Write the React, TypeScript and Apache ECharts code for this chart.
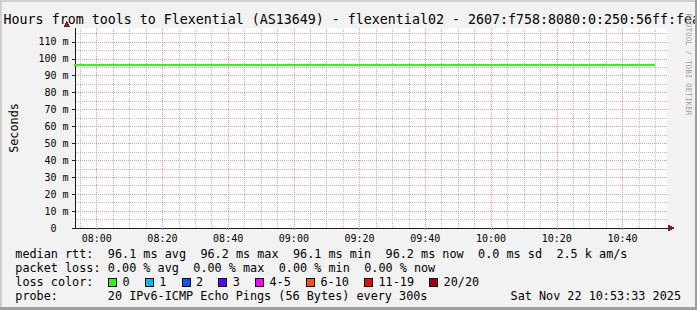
import { useEffect, useRef } from 'react';
import * as echarts from 'echarts';

const FONT = '"DejaVu Sans Mono", monospace';

const TITLE = 'Hours from tools to Flexential (AS13649) - flexential02 - 2607:f758:8080:0:250:56ff:fea';
const Y_NAME = 'Seconds';
const WATERMARK = 'RRDTOOL / TOBI OETIKER';

const WINDOW_START = '07:53:33';
const WINDOW_END = '10:53:33';
const Y_MAX = 118.2;

const sampleTimes = [
  '07:50', '07:55', '08:00', '08:05', '08:10', '08:15', '08:20', '08:25', '08:30', '08:35',
  '08:40', '08:45', '08:50', '08:55', '09:00', '09:05', '09:10', '09:15', '09:20', '09:25',
  '09:30', '09:35', '09:40', '09:45', '09:50', '09:55', '10:00', '10:05', '10:10', '10:15',
  '10:20', '10:25', '10:30', '10:35', '10:40', '10:45', '10:50',
];
const medianRttMs = [
  96.1, 96.1, 96.2, 96.1, 96.1, 96.1, 96.2, 96.1, 96.1, 96.1,
  96.1, 96.2, 96.1, 96.1, 96.1, 96.1, 96.1, 96.2, 96.1, 96.1,
  96.1, 96.2, 96.1, 96.1, 96.1, 96.1, 96.1, 96.2, 96.1, 96.1,
  96.1, 96.1, 96.2, 96.1, 96.1, 96.1, 96.2,
];

const xTickLabels = ['08:00', '08:20', '08:40', '09:00', '09:20', '09:40', '10:00', '10:20', '10:40'];
const yMajorTicks = [0, 10, 20, 30, 40, 50, 60, 70, 80, 90, 100, 110];
const yMinorTicks = [5, 15, 25, 35, 45, 55, 65, 75, 85, 95, 105, 115];

const rttStats = ['96.1 ms avg', '96.2 ms max', '96.1 ms min', '96.2 ms now', '0.0 ms sd', '2.5 k am/s'];
const lossStats = ['0.00 % avg', '0.00 % max', '0.00 % min', '0.00 % now'];
const lossLabels = ['0', '1', '2', '3', '4-5', '6-10', '11-19', '20/20'];
const lossColors = ['#26ff00', '#00b8ff', '#0059ff', '#5e00ff', '#ff00ff', '#ff5500', '#ff0000', '#a10000'];
const probeText = '20 IPv6-ICMP Echo Pings (56 Bytes) every 300s';
const dateText = 'Sat Nov 22 10:53:33 2025';

const BG = '#f2f2f2';
const SHADE_A = '#cfcfcf';
const SHADE_B = '#9e9e9e';
const AXIS = '#1f1f1f';
const ARROW = '#801f1f';
const MINOR_GRID = '#bcbcbc';
const MAJOR_GRID = '#eb9a9a';

const toMin = (s: string) => {
  const [h, m, sec] = s.split(':').map(Number);
  return h * 60 + m + (sec || 0) / 60;
};
const fmtTime = (v: number) => {
  const t = Math.round(v);
  const h = Math.floor(t / 60);
  const m = t % 60;
  return `${String(h).padStart(2, '0')}:${String(m).padStart(2, '0')}`;
};

const LEG_X0 = 15.3;
const CW = 7.12;
const LEG_FS = 11.8;

function txt(text: string, x: number, y: number, extra: any = {}) {
  return {
    type: 'text',
    x,
    y,
    silent: true,
    z: 50,
    style: {
      text,
      fill: '#000',
      fontFamily: FONT,
      fontSize: LEG_FS,
      textAlign: 'left',
      textVerticalAlign: 'middle',
      ...extra,
    },
  };
}

function segmentsRow(label: string, items: string[], startCol: number, y: number) {
  const out: any[] = [txt(label, LEG_X0, y)];
  let col = startCol;
  items.forEach((s) => {
    out.push(txt(s, LEG_X0 + col * CW, y));
    col += s.length + 2;
  });
  return out;
}

export default function App() {
  const ref = useRef<HTMLDivElement>(null);

  useEffect(() => {
    document.body.style.margin = '0';
    const chart = echarts.init(ref.current!, null, { renderer: 'svg', width: 697, height: 310 });

    const xMin = toMin(WINDOW_START);
    const xMax = toMin(WINDOW_END);
    const majorX = xTickLabels.map(toMin);
    const minorX: number[] = [];
    for (let v = Math.ceil(xMin / 5) * 5; v <= xMax; v += 5) {
      if (v % 20 !== 0) minorX.push(v);
    }

    const data = sampleTimes.map((t, i) => [toMin(t), medianRttMs[i]]);

    const graphic: any[] = [];
    graphic.push({
      type: 'text', x: 3.6, y: 19, silent: true, z: 40,
      style: { text: TITLE, fill: '#000', fontFamily: FONT, fontSize: 13.3, textVerticalAlign: 'middle' },
    });
    graphic.push({
      type: 'text', x: 688, y: 64.5, rotation: -Math.PI / 2, silent: true, z: 45,
      style: { text: WATERMARK, fill: '#9c9c9c', fontFamily: FONT, fontSize: 7.7, textAlign: 'center', textVerticalAlign: 'middle' },
    });
    graphic.push({
      type: 'polygon', silent: true, z: 60,
      shape: { points: [[63.5, 27], [70, 27], [66.75, 21]] },
      style: { fill: ARROW },
    });
    graphic.push({
      type: 'polygon', silent: true, z: 60,
      shape: { points: [[668, 224.5], [668, 231.5], [674.5, 228]] },
      style: { fill: ARROW },
    });
    graphic.push({
      type: 'line', silent: true, z: 59,
      shape: { x1: 666, y1: 228.5, x2: 669, y2: 228.5 },
      style: { stroke: AXIS, lineWidth: 1 },
    });

    graphic.push(...segmentsRow('median rtt:', rttStats, 13, 254.3));
    graphic.push(...segmentsRow('packet loss:', lossStats, 13, 268.3));
    graphic.push(txt('loss color:', LEG_X0, 282.3));
    let bx = 108;
    lossLabels.forEach((lab, i) => {
      graphic.push({
        type: 'rect', silent: true, z: 50,
        shape: { x: bx + 0.5, y: 278.5, width: 8, height: 8 },
        style: { fill: lossColors[i], stroke: '#000', lineWidth: 1 },
      });
      const lx = bx + 14.4;
      graphic.push(txt(lab, lx, 282.3));
      bx = lx + lab.length * 7.08 + 15.3;
    });
    graphic.push(txt('probe:', LEG_X0, 296));
    graphic.push(txt(probeText, LEG_X0 + 13 * CW, 296));
    graphic.push(txt(dateText, 681, 296, { textAlign: 'right' }));

    graphic.push({ type: 'rect', silent: true, z: 90, shape: { x: 0, y: 0, width: 697, height: 2 }, style: { fill: SHADE_A } });
    graphic.push({ type: 'rect', silent: true, z: 90, shape: { x: 0, y: 0, width: 2, height: 310 }, style: { fill: SHADE_A } });
    graphic.push({ type: 'rect', silent: true, z: 91, shape: { x: 695, y: 0, width: 2, height: 310 }, style: { fill: SHADE_B } });
    graphic.push({ type: 'rect', silent: true, z: 91, shape: { x: 0, y: 307, width: 697, height: 3 }, style: { fill: SHADE_B } });

    const minorLines = [
      ...minorX.map((v) => ({ xAxis: v })),
      ...yMinorTicks.map((v) => ({ yAxis: v })),
    ];

    const option: any = {
      animation: false,
      backgroundColor: BG,
      textStyle: { fontFamily: FONT },
      grid: {
        left: 66, top: 28, width: 601, height: 200,
        show: true, backgroundColor: '#ffffff', borderWidth: 0,
      },
      xAxis: {
        type: 'value', min: xMin, max: xMax, position: 'bottom',
        axisLine: { show: true, onZero: false, lineStyle: { color: AXIS, width: 1 } },
        axisTick: { show: true, customValues: majorX, length: 2, lineStyle: { color: '#e07070' } },
        axisLabel: {
          show: true, customValues: majorX, formatter: (v: number) => fmtTime(v),
          fontFamily: FONT, fontSize: 10, color: '#000', margin: 5,
        },
        splitLine: { show: true, lineStyle: { color: MAJOR_GRID, type: [1, 1], width: 1 } },
        z: 3,
      },
      yAxis: {
        type: 'value', min: 0, max: Y_MAX, position: 'left',
        name: Y_NAME, nameLocation: 'middle', nameGap: 55.5,
        nameTextStyle: { fontFamily: FONT, fontSize: LEG_FS, color: '#000' },
        axisLine: { show: true, onZero: false, lineStyle: { color: AXIS, width: 1 } },
        axisTick: { show: true, customValues: yMajorTicks, length: 4, lineStyle: { color: AXIS } },
        axisLabel: {
          show: true, customValues: yMajorTicks, margin: 7,
          formatter: (v: number) => (v === 0 ? '{z|0}' : `${v} m`),
          fontFamily: FONT, fontSize: 10, color: '#000',
          rich: { z: { fontFamily: FONT, fontSize: 10, color: '#000', padding: [0, 12, 0, 0] } },
        },
        splitLine: { show: true, lineStyle: { color: MAJOR_GRID, type: [1, 1], width: 1 } },
        z: 3,
      },
      series: [
        {
          type: 'line', data,
          step: 'start', showSymbol: false, symbol: 'none', silent: true,
          lineStyle: { color: lossColors[0], width: 2 },
          itemStyle: { color: lossColors[0] },
          z: 5,
          markLine: {
            silent: true, animation: false, symbol: ['none', 'none'], z: 1,
            label: { show: false },
            lineStyle: { color: MINOR_GRID, type: [1, 1], width: 1, opacity: 1 },
            emphasis: { disabled: true },
            data: minorLines,
          },
        },
      ],
      graphic,
    };

    chart.setOption(option);
    return () => chart.dispose();
  }, []);

  return (
    <div className="smokeping-chart">
      <style>{'.smokeping-chart svg path { shape-rendering: crispEdges; }'}</style>
      <div ref={ref} style={{ width: 697, height: 310 }} />
    </div>
  );
}
